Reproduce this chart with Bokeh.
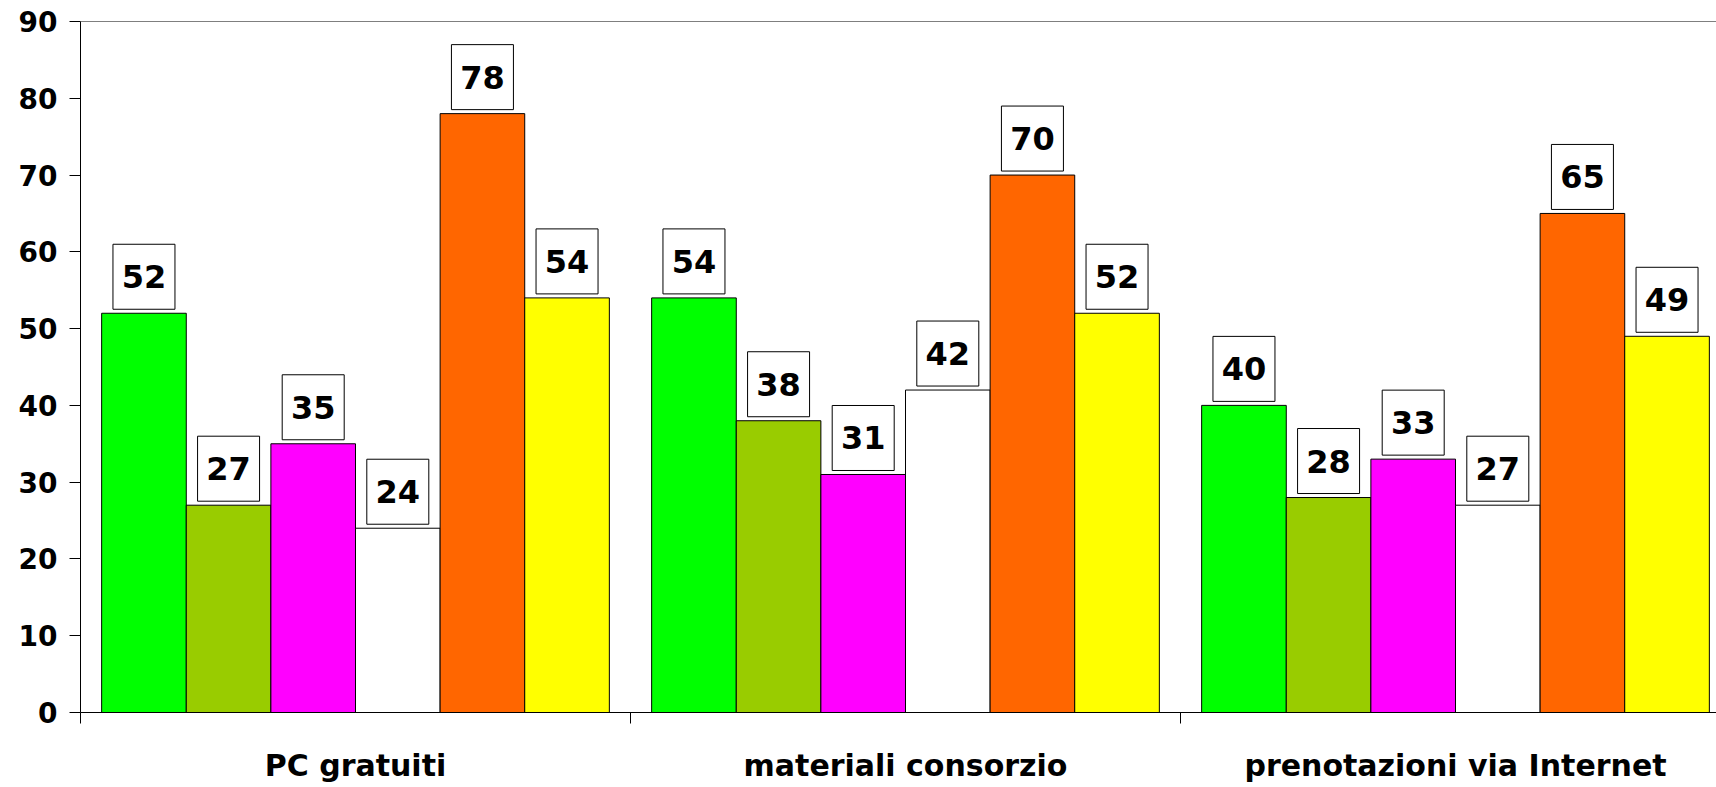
from bokeh.plotting import figure
from bokeh.models import Range1d, FixedTicker, Span, ColumnDataSource
from bokeh.core.properties import value
from bokeh.embed import file_html
from bokeh.resources import INLINE

categories = ["PC gratuiti", "materiali consorzio", "prenotazioni via Internet"]
series_colors = ["#00FF00", "#99CC00", "#FF00FF", "#FFFFFF", "#FF6600", "#FFFF00"]
s1 = [52, 54, 40]
s2 = [27, 38, 28]
s3 = [35, 31, 33]
s4 = [24, 42, 27]
s5 = [78, 70, 65]
s6 = [54, 52, 49]
series = [s1, s2, s3, s4, s5, s6]
y_ticks = [0, 10, 20, 30, 40, 50, 60, 70, 80, 90]

FONT = "DejaVu Sans"
W, H = 1716, 787
LEFT, RIGHT, TOP, BOTTOM = 80, 0, 21, 75
CAT_PX = 550
X_END = (W - LEFT - RIGHT) / CAT_PX
Y_MAX = 90

p = figure(width=W, height=H, output_backend="svg", toolbar_location=None,
           x_range=Range1d(0, X_END), y_range=Range1d(0, Y_MAX),
           min_border_left=LEFT, min_border_right=RIGHT,
           min_border_top=TOP, min_border_bottom=BOTTOM)
p.outline_line_color = None
p.xgrid.visible = False
p.ygrid.visible = False
p.background_fill_color = "white"
p.border_fill_color = "white"

frame_w = W - LEFT - RIGHT
frame_h = H - TOP - BOTTOM
px_x = X_END / frame_w          # data units per pixel, x
px_y = Y_MAX / frame_h          # data units per pixel, y

n = len(series)
bw = 1.0 / (n + 0.5)
centers = [i + 0.5 for i in range(len(categories))]

for j, (vals, col) in enumerate(zip(series, series_colors)):
    xs = [c + (j - (n - 1) / 2) * bw for c in centers]
    src = ColumnDataSource(dict(x=xs, top=vals,
                                lbl=[str(v) for v in vals],
                                bb=[v + 4 * px_y for v in vals],
                                bt=[v + (4 + 65) * px_y for v in vals],
                                bc=[v + (4 + 32.5) * px_y for v in vals],
                                bl=[x - 31 * px_x for x in xs],
                                br=[x + 31 * px_x for x in xs]))
    p.vbar(x="x", top="top", bottom=0, width=bw, source=src,
           fill_color=col, line_color="black", line_width=1)
    p.quad(left="bl", right="br", bottom="bb", top="bt", source=src,
           fill_color="white", line_color="black", line_width=1)
    p.text(x="x", y="bc", text="lbl", source=src,
           text_font=value(FONT), text_font_style="bold",
           text_font_size="32px", text_align="center",
           text_baseline="middle", text_color="black")

# top border of plot area
p.add_layout(Span(location=Y_MAX, dimension="width", line_color="black", line_width=1))

# y axis
ya = p.yaxis[0]
ya.ticker = FixedTicker(ticks=y_ticks)
ya.major_tick_out = 11
ya.major_tick_in = 0
ya.minor_tick_out = 0
ya.minor_tick_in = 0
ya.axis_line_color = "black"
ya.major_tick_line_color = "black"
ya.major_label_standoff = 12
ya.major_label_text_font = FONT
ya.major_label_text_font_style = "bold"
ya.major_label_text_font_size = "28px"
ya.major_label_text_color = "black"

# x axis: labels at category centres, ticks at category boundaries
xa = p.xaxis[0]
xa.ticker = FixedTicker(ticks=centers, minor_ticks=list(range(len(categories) + 1)))
xa.major_label_overrides = {c: name for c, name in zip(centers, categories)}
xa.major_tick_out = 0
xa.major_tick_in = 0
xa.minor_tick_out = 11
xa.minor_tick_in = 0
xa.minor_tick_line_color = "black"
xa.axis_line_color = "black"
xa.major_label_standoff = 24
xa.major_label_text_font = FONT
xa.major_label_text_font_style = "bold"
xa.major_label_text_font_size = "30px"
xa.major_label_text_color = "black"

open("out.html", "w").write(file_html(p, INLINE))
